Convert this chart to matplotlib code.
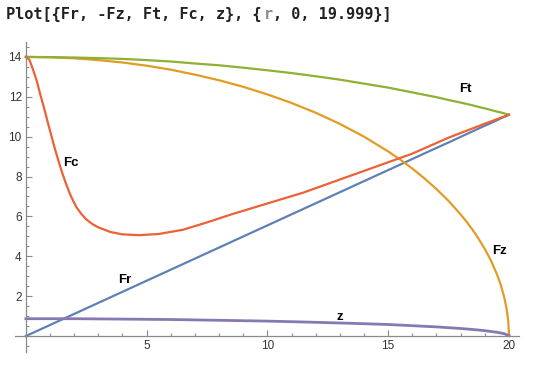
import matplotlib
matplotlib.use("Agg")
import matplotlib.pyplot as plt
from matplotlib.ticker import MultipleLocator

# values
r_main = [0, 1, 2, 3, 4, 5, 6, 7, 8, 9, 10, 11, 12, 13, 14, 15, 15.5, 16,
          16.5, 17, 17.5, 18, 18.25, 18.5, 18.75, 19, 19.25, 19.5, 19.65,
          19.8, 19.9, 19.97, 20]
fr = [0, 0.555, 1.11, 1.665, 2.22, 2.775, 3.33, 3.885, 4.44, 4.995, 5.55,
      6.105, 6.66, 7.215, 7.77, 8.325, 8.60, 8.88, 9.16, 9.435, 9.71, 9.99,
      10.13, 10.27, 10.41, 10.55, 10.68, 10.82, 10.91, 10.99, 11.04, 11.08,
      11.10]
neg_fz = [14.00, 13.98, 13.93, 13.84, 13.72, 13.56, 13.36, 13.11, 12.83,
          12.50, 12.12, 11.69, 11.20, 10.64, 10.00, 9.26, 8.85, 8.40, 7.91,
          7.37, 6.78, 6.10, 5.73, 5.32, 4.87, 4.37, 3.80, 3.11, 2.61, 1.97,
          1.40, 0.77, 0.14]
ft = [14.00, 13.99, 13.97, 13.94, 13.90, 13.84, 13.77, 13.67, 13.58, 13.46,
      13.33, 13.19, 13.03, 12.86, 12.66, 12.46, 12.34, 12.22, 12.10, 11.98,
      11.84, 11.71, 11.64, 11.57, 11.49, 11.42, 11.34, 11.26, 11.22, 11.17,
      11.13, 11.11, 11.10]

r_fc = [0, 0.15, 0.3, 0.45, 0.6, 0.75, 0.9, 1.05, 1.2, 1.35, 1.5, 1.65, 1.8,
        1.95, 2.1, 2.3, 2.5, 2.75, 3.0, 3.5, 4.0, 4.7, 5.5, 6.5, 7.5, 8.5, 10,
        11.5, 13, 14.5, 16, 17.5, 19, 20]
fc = [14.0, 13.85, 13.35, 12.8, 12.1, 11.45, 10.75, 10.07, 9.4, 8.78, 8.2,
      7.68, 7.2, 6.8, 6.45, 6.12, 5.85, 5.62, 5.45, 5.22, 5.1, 5.06, 5.12,
      5.33, 5.7, 6.1, 6.65, 7.2, 7.85, 8.5, 9.15, 9.95, 10.65, 11.1]

r_z = [0, 2, 4, 6, 8, 10, 12, 14, 15, 16, 17, 18, 18.5, 19, 19.5, 19.8, 20]
z = [0.87, 0.87, 0.85, 0.83, 0.79, 0.75, 0.69, 0.62, 0.58, 0.52, 0.46, 0.38,
     0.33, 0.27, 0.19, 0.12, 0.02]

labels = ["Ft", "Fc", "Fr", "Fz", "z"]
label_x = [18.2, 1.86, 4.10, 19.63, 13.0]
label_y = [12.39, 8.7, 2.81, 4.27, 0.97]

fig = plt.figure(figsize=(5.4, 3.74), dpi=100)
ax = fig.add_axes([0.0278, 0.0588, 0.933, 0.829])

lw = 1.6
ax.plot(r_main, fr, color="#5E81B5", lw=lw)
ax.plot(r_main, neg_fz, color="#E19C24", lw=lw)
ax.plot(r_main, ft, color="#8FB032", lw=lw)
ax.plot(r_fc, fc, color="#EB6235", lw=lw)
ax.plot(r_z, z, color="#8778B3", lw=lw + 0.4)

for txt, x, y in zip(labels, label_x, label_y):
    ax.text(x, y, txt, ha="center", va="center", fontsize=9.5,
            fontweight="bold", family=["Liberation Sans", "DejaVu Sans"])

ax.set_xlim(-0.45, 20.41)
ax.set_ylim(-0.8, 14.75)

# Mathematica style axes crossing at the origin
for side in ["top", "right"]:
    ax.spines[side].set_visible(False)
for side in ["left", "bottom"]:
    ax.spines[side].set_position(("data", 0))
    ax.spines[side].set_color("#8a8a8a")
    ax.spines[side].set_linewidth(0.9)

ax.set_xticks([5, 10, 15, 20])
ax.set_yticks([2, 4, 6, 8, 10, 12, 14])
ax.xaxis.set_minor_locator(MultipleLocator(1))
ax.yaxis.set_minor_locator(MultipleLocator(0.5))
ax.tick_params(which="both", direction="in", color="#8a8a8a", width=0.8,
               labelsize=8.5, labelcolor="#333333")
ax.tick_params(which="major", length=4, pad=3)
ax.tick_params(which="minor", length=2.3)
for lab in ax.get_xticklabels() + ax.get_yticklabels():
    lab.set_family(["Liberation Sans", "DejaVu Sans"])

# title line drawn as input code, with the iterator in gray
mono = ["DejaVu Sans Mono"]
prefix = "Plot[{Fr, -Fz, Ft, Fc, z}, {"
suffix = ", 0, 19.999}]"
x0 = 6 / 540
char_w = 0.602 * 11 * 100 / 72 / 540
fig.text(x0, 0.96, prefix, family=mono, fontsize=11,
         fontweight="bold", va="center", ha="left", color="#222222")
fig.text(x0 + len(prefix) * char_w, 0.96, "r", family=mono, fontsize=11,
         fontweight="bold", va="center", ha="left", color="#8c8c8c")
fig.text(x0 + (len(prefix) + 1) * char_w, 0.96, suffix, family=mono,
         fontsize=11, fontweight="bold", va="center", ha="left",
         color="#222222")

fig.savefig("out.png", dpi=100)
